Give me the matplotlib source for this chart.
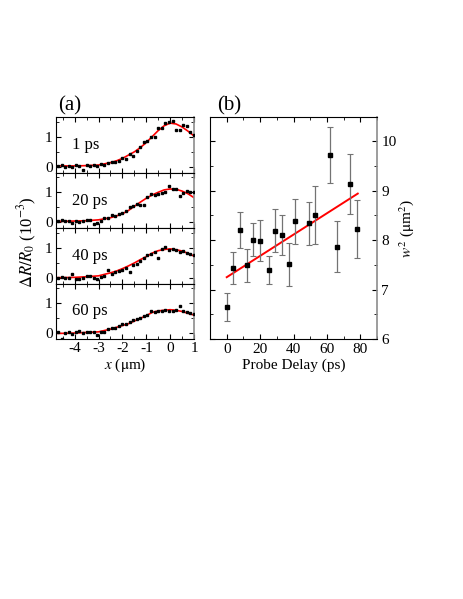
import numpy as np
import matplotlib
matplotlib.use('Agg')
import matplotlib.pyplot as plt
from matplotlib.ticker import MultipleLocator

plt.rcParams['font.family'] = ['Liberation Serif', 'DejaVu Serif']
plt.rcParams['mathtext.fontset'] = 'stix'

# ---- panel (a): dR/R0 profiles ----
delays_a = ['1 ps', '20 ps', '40 ps', '60 ps']

x_data = [-4.7, -4.55, -4.4, -4.25, -4.1, -3.95, -3.8, -3.65, -3.5, -3.35,
          -3.2, -3.05, -2.9, -2.75, -2.6, -2.45, -2.3, -2.15, -2.0, -1.85,
          -1.7, -1.55, -1.4, -1.25, -1.1, -0.95, -0.8, -0.65, -0.5, -0.35,
          -0.2, -0.05, 0.1, 0.25, 0.4, 0.55, 0.7, 0.85, 1.0]

dr_1ps = [0.03, 0.05, 0.0, 0.04, -0.01, 0.05, 0.02, -0.09, 0.06, 0.03,
          0.05, 0.02, 0.08, 0.06, 0.12, 0.15, 0.17, 0.2, 0.3, 0.27,
          0.42, 0.37, 0.52, 0.65, 0.83, 0.85, 1.0, 1.0, 1.28, 1.3,
          1.45, 1.5, 1.52, 1.24, 1.24, 1.38, 1.37, 1.15, 1.05]
dr_20ps = [0.04, 0.06, 0.03, 0.05, -0.02, 0.03, 0.02, 0.04, 0.08, 0.07,
           -0.05, -0.03, 0.03, 0.15, 0.13, 0.24, 0.22, 0.28, 0.3, 0.38,
           0.5, 0.55, 0.6, 0.57, 0.56, 0.85, 0.93, 0.9, 0.95, 0.99,
           1.02, 1.22, 1.1, 1.1, 0.88, 0.98, 1.05, 1.02, 1.0]
dr_40ps = [0.0, 0.01, -0.02, 0.0, 0.12, -0.03, -0.05, 0.0, 0.07, 0.04,
           -0.02, -0.04, 0.03, 0.04, 0.25, 0.12, 0.2, 0.22, 0.27, 0.33,
           0.2, 0.43, 0.47, 0.55, 0.66, 0.75, 0.8, 0.86, 0.64, 0.94,
           1.02, 0.92, 0.95, 0.92, 0.87, 0.9, 0.83, 0.8, 0.74]
dr_60ps = [0.02, -0.2, -0.01, 0.02, -0.03, 0.02, 0.07, 0.01, 0.03, 0.05,
           0.02, -0.05, 0.04, 0.05, 0.15, 0.18, 0.18, 0.24, 0.29, 0.3,
           0.36, 0.42, 0.47, 0.5, 0.56, 0.6, 0.75, 0.7, 0.75, 0.74,
           0.77, 0.74, 0.74, 0.78, 0.9, 0.74, 0.7, 0.67, 0.63]

x_fit = [-4.85, -4.5, -4.0, -3.5, -3.0, -2.5, -2.25, -2.0, -1.75, -1.5,
         -1.25, -1.0, -0.75, -0.5, -0.25, 0.0, 0.25, 0.5, 0.75, 1.0]
fit_1ps = [0.03, 0.03, 0.03, 0.04, 0.06, 0.14, 0.2, 0.28, 0.39, 0.5,
           0.64, 0.81, 1.01, 1.21, 1.37, 1.46, 1.43, 1.33, 1.19, 1.03]
fit_20ps = [0.03, 0.03, 0.04, 0.05, 0.08, 0.15, 0.21, 0.28, 0.39, 0.53,
            0.67, 0.8, 0.91, 1.0, 1.08, 1.11, 1.1, 1.04, 0.95, 0.82]
fit_40ps = [0.0, 0.0, 0.01, 0.03, 0.06, 0.16, 0.22, 0.3, 0.39, 0.49,
            0.6, 0.7, 0.82, 0.9, 0.94, 0.96, 0.93, 0.89, 0.81, 0.72]
fit_60ps = [-0.01, -0.01, 0.0, 0.02, 0.04, 0.13, 0.19, 0.25, 0.31, 0.4,
            0.49, 0.58, 0.69, 0.74, 0.76, 0.78, 0.76, 0.72, 0.66, 0.6]

dr_all = [dr_1ps, dr_20ps, dr_40ps, dr_60ps]
fit_all = [fit_1ps, fit_20ps, fit_40ps, fit_60ps]

# ---- panel (b): w^2 vs probe delay ----
delay = [0, 4, 8, 12, 16, 20, 25, 29, 33, 37, 41, 49, 53, 62, 66, 74, 78]
w2 = [6.65, 7.43, 8.21, 7.49, 8.01, 7.99, 7.4, 8.19, 8.1, 7.51, 8.38,
      8.34, 8.51, 9.72, 7.87, 9.14, 8.22]
w2_err = [0.28, 0.32, 0.36, 0.33, 0.33, 0.41, 0.28, 0.43, 0.4, 0.43, 0.46,
          0.43, 0.59, 0.56, 0.52, 0.61, 0.59]
line_delay = [0, 78.4]
line_w2 = [7.25, 8.94]

fig = plt.figure(figsize=(4.63, 5.99), dpi=100)

left_a, width_a = 0.120, 0.299
bottom, top = 0.434, 0.804
h = (top - bottom) / 4

axes_a = []
for i in range(4):
    ax = fig.add_axes([left_a, top - (i + 1) * h, width_a, h])
    ax.plot(x_fit, fit_all[i], color='#ff0000', lw=1.2, zorder=2)
    ax.plot(x_data, dr_all[i], 's', color='black', ms=2.0, zorder=3)
    ax.set_xlim(-4.8, 1)
    ax.set_ylim(-0.2, 1.65)
    ax.set_yticks([0, 1])
    ax.yaxis.set_minor_locator(MultipleLocator(0.5))
    ax.xaxis.set_major_locator(MultipleLocator(1))
    ax.xaxis.set_minor_locator(MultipleLocator(0.5))
    ax.tick_params(which='both', direction='in', top=True, right=True, labelsize=11, pad=2)
    ax.tick_params(which='major', length=3.5)
    ax.tick_params(which='minor', length=2)
    ax.spines['right'].set_color('0.55')
    ax.spines['right'].set_linewidth(1.2)
    for s in ['left', 'top', 'bottom']:
        ax.spines[s].set_linewidth(0.8)
    ax.text(0.12, 0.5, delays_a[i], transform=ax.transAxes, fontsize=12,
            va='center', ha='left')
    if i < 3:
        ax.tick_params(labelbottom=False)
    axes_a.append(ax)

axes_a[-1].set_xticks([-4, -3, -2, -1, 0, 1])
axes_a[-1].set_xticklabels(['-4', '-3', '-2', '-1', '0', '1'])
axes_a[-1].set_xlabel(r'$x$ ($\mathrm{\mu}$m)', fontsize=11, labelpad=1)
axes_a[0].set_title('(a)', fontsize=15, loc='left', x=0.02, pad=5)
fig.text(0.06, 0.596, r'$\Delta R/R_0$ (10$^{-3}$)', rotation=90,
         fontsize=12, ha='center', va='center')

# panel (b)
axb = fig.add_axes([0.4536, bottom, 0.361, top - bottom])
axb.errorbar(delay, w2, yerr=w2_err, fmt='s', color='black', ms=3.5,
             ecolor='0.45', elinewidth=0.9, capsize=2, capthick=0.8, zorder=3)
axb.plot(line_delay, line_w2, color='#ff0000', lw=1.4, zorder=2)
axb.set_xlim(-10, 90)
axb.set_ylim(6, 10.48)
axb.xaxis.set_major_locator(MultipleLocator(20))
axb.xaxis.set_minor_locator(MultipleLocator(10))
axb.yaxis.set_major_locator(MultipleLocator(1))
axb.yaxis.set_minor_locator(MultipleLocator(0.5))
axb.yaxis.tick_right()
axb.yaxis.set_label_position('right')
axb.tick_params(which='both', direction='in', top=True, left=True, right=True,
                labelleft=False, labelright=True, labelsize=11, pad=3)
axb.tick_params(which='major', length=3.5)
axb.tick_params(which='minor', length=2)
axb.spines['right'].set_color('0.55')
axb.spines['right'].set_linewidth(1.2)
for s in ['left', 'top', 'bottom']:
    axb.spines[s].set_linewidth(0.8)
axb.set_xlabel('Probe Delay (ps)', fontsize=11, labelpad=2)
axb.set_ylabel(r'$w^2$ ($\mathrm{\mu}$m$^2$)', fontsize=11, labelpad=0)
axb.set_title('(b)', fontsize=15, loc='left', x=0.04, pad=5)

plt.savefig('out.png', dpi=100)
